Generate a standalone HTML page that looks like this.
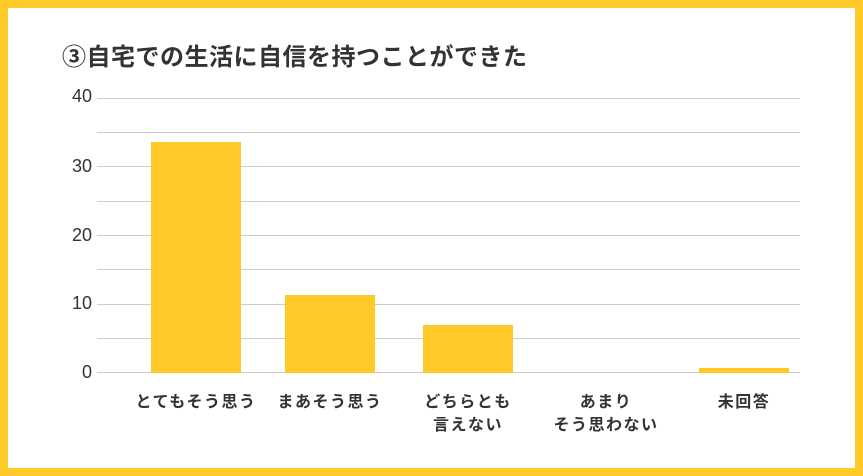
<!DOCTYPE html>
<html><head><meta charset="utf-8"><style>
body{margin:0;width:863px;height:476px;overflow:hidden;background:#fff}
.frame{position:absolute;left:0;top:0;width:847px;height:460px;border:8px solid #FFC928;background:#fff}
.t{position:absolute;font-family:"Liberation Sans","Noto Sans CJK JP",sans-serif;color:#333}
.g{position:absolute;left:97px;width:703px;height:1px;background:#ccc}
.b{position:absolute;background:#FFC928;width:90px}
.y{position:absolute;font-family:"Liberation Sans",sans-serif;font-size:18px;color:#333;width:31px;text-align:right;left:61px}
.x{position:absolute;font-family:"Liberation Sans","Noto Sans CJK JP",sans-serif;font-size:16px;font-weight:bold;color:#333;text-align:center;width:170px;line-height:23px;letter-spacing:1.5px}
</style></head><body>
<div class="frame"></div>
<div class="t" style="left:62px;top:37px;font-size:24px;font-weight:bold;letter-spacing:0.5px">③自宅での生活に自信を持つことができた</div>
<div class="g" style="top:98px"></div><div class="g" style="top:132px"></div>
<div class="g" style="top:166px"></div><div class="g" style="top:201px"></div>
<div class="g" style="top:235px"></div><div class="g" style="top:269px"></div>
<div class="g" style="top:304px"></div><div class="g" style="top:338px"></div>
<div class="g" style="top:372px"></div>
<div class="y" style="top:86px">40</div>
<div class="y" style="top:156px">30</div>
<div class="y" style="top:225px">20</div>
<div class="y" style="top:293px">10</div>
<div class="y" style="top:362px">0</div>
<div class="b" style="left:151px;top:142px;height:231px"></div>
<div class="b" style="left:285px;top:295px;height:78px"></div>
<div class="b" style="left:423px;top:325px;height:48px"></div>
<div class="b" style="left:699px;top:368px;height:5px"></div>
<div class="x" style="left:111px;top:391px">とてもそう思う</div>
<div class="x" style="left:245px;top:391px">まあそう思う</div>
<div class="x" style="left:383px;top:391px">どちらとも<br>言えない</div>
<div class="x" style="left:521px;top:391px">あまり<br>そう思わない</div>
<div class="x" style="left:659px;top:391px">未回答</div>
</body></html>
